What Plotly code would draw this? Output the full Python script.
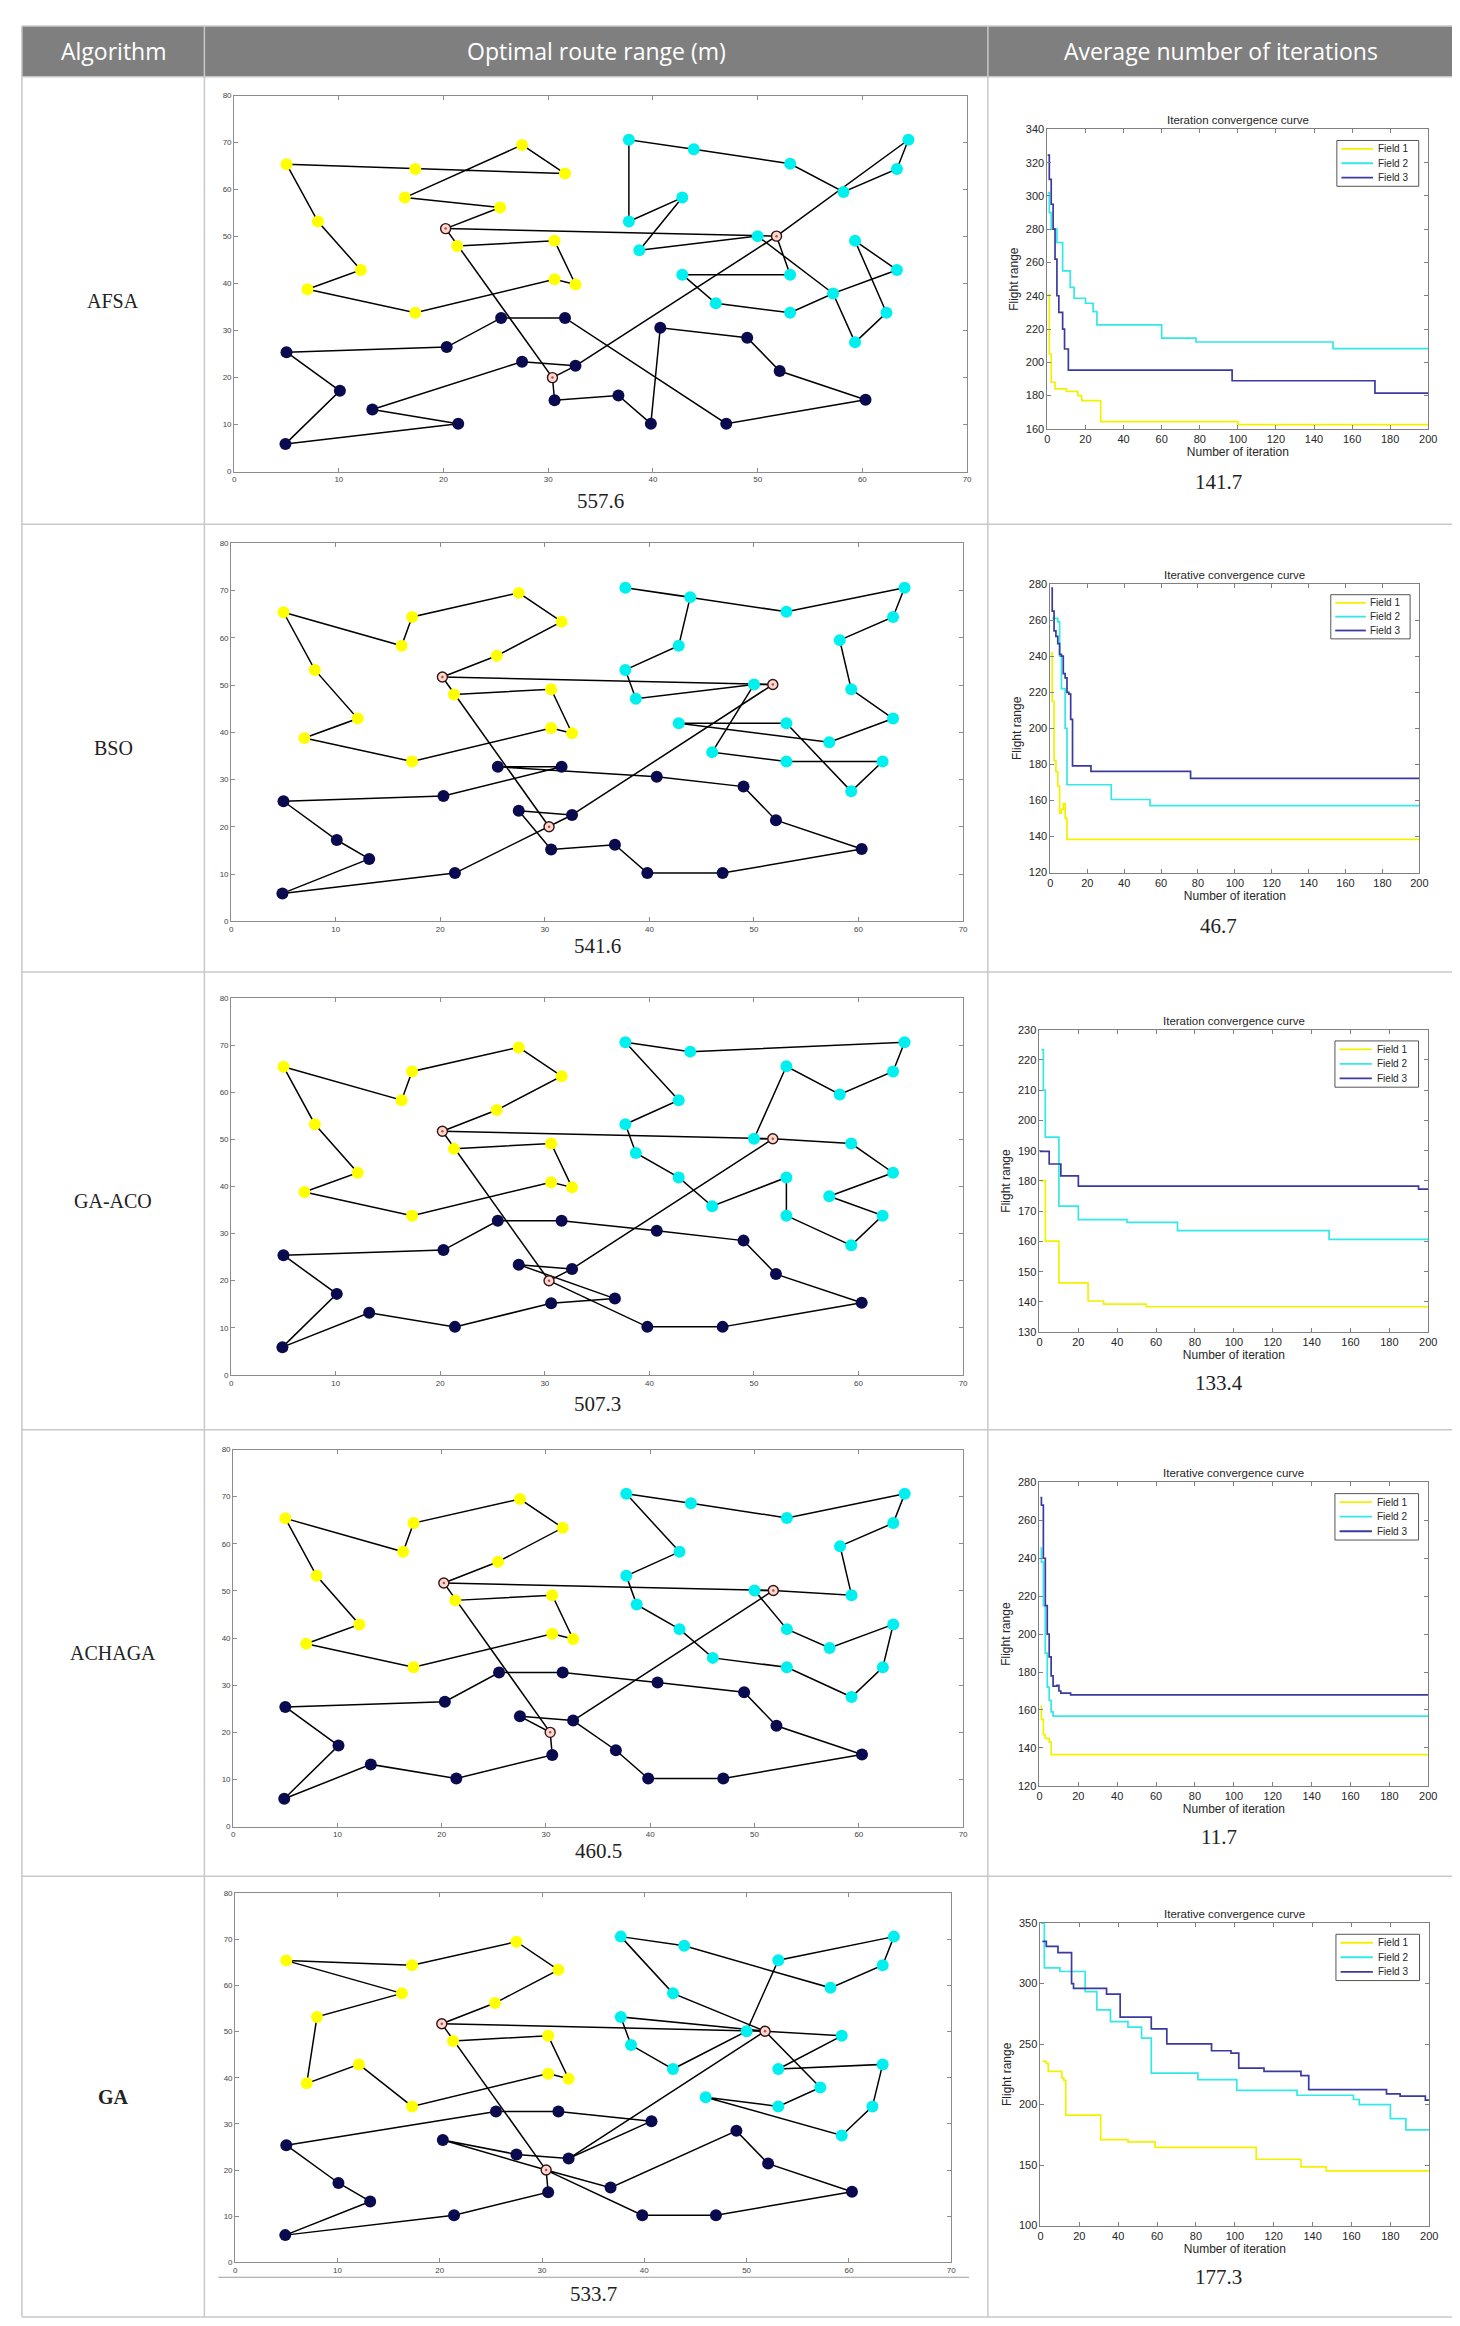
import plotly.graph_objects as go

W, H = 1460, 2326

# ---------------- node coordinates (same field layout in every route plot) ----------------
field1_x = [5.0, 17.3, 27.5, 31.6, 16.3, 25.4, 8.0, 12.1, 7.0, 17.3, 30.6, 32.6, 21.3, 30.6]
field1_y = [65.4, 64.4, 69.5, 63.4, 58.3, 56.2, 53.2, 42.9, 38.8, 33.8, 40.9, 39.8, 48.0, 49.1]
field2_x = [37.7, 43.9, 53.1, 58.2, 64.4, 63.3, 42.8, 37.7, 38.7, 50.0, 59.3, 63.3, 42.8, 53.1,
            46.0, 53.1, 57.2, 62.3, 59.3]
field2_y = [70.6, 68.6, 65.5, 59.5, 70.6, 64.4, 58.3, 53.2, 47.1, 50.1, 49.1, 42.9, 41.9, 41.9,
            35.8, 33.8, 37.9, 33.8, 27.5]
field3_x = [5.0, 20.3, 25.5, 31.6, 10.1, 4.9, 21.4, 13.2, 27.5, 32.6, 30.6, 36.7, 39.8, 40.7,
            49.0, 52.1, 60.3, 47.0]
field3_y = [25.4, 26.5, 32.7, 32.7, 17.2, 5.9, 10.2, 13.2, 23.4, 22.5, 15.2, 16.2, 10.2, 30.6,
            28.5, 21.4, 15.3, 10.2]
depot_x = [20.2, 51.8, 30.4]
depot_y = [51.7, 50.1, 20.0]

# ---------------- routes (Y = field 1, C = field 2, N = field 3, D = depot) ----------------
transit = [["D1", "D3"], ["D1", "D2"], ["D2", "N9"]]
yellow_common = ["D1", "Y5", "Y3", "Y2", "Y1", "Y4", "Y0", "Y6", "Y7", "Y8", "Y9", "Y10", "Y11", "Y13", "Y12"]

afsa_route = [
    ["D1", "Y5", "Y4", "Y2", "Y3", "Y1", "Y0", "Y6", "Y7", "Y8", "Y9", "Y10", "Y11", "Y13", "Y12"],
    ["D2", "C13", "C12", "C14", "C15", "C16", "C18", "C17", "C10", "C11", "C16", "C9", "C8", "C6",
     "C7", "C0", "C1", "C2", "C3", "C5", "C4", "D2"],
    ["D3", "N10", "N11", "N12", "N13", "N14", "N15", "N16", "N17", "N3", "N2", "N1", "N0", "N4",
     "N5", "N6", "N7", "N8", "N9", "D3"],
] + transit
bso_route = [
    yellow_common,
    ["D2", "C9", "C8", "C7", "C6", "C1", "C0", "C1", "C2", "C4", "C5", "C3", "C10", "C11", "C16",
     "C12", "C13", "C18", "C17", "C15", "C14", "C9"],
    ["N6", "D3", "N9", "N8", "N10", "N11", "N12", "N17", "N16", "N15", "N14", "N13", "N2", "N3",
     "N1", "N0", "N4", "N7", "N5", "N6"],
] + transit
gaaco_route = [
    yellow_common,
    ["D2", "C10", "C11", "C16", "C17", "C18", "C15", "C13", "C14", "C12", "C8", "C7", "C6", "C0",
     "C1", "C4", "C5", "C3", "C2", "C9", "D2"],
    ["D3", "N12", "N17", "N16", "N15", "N14", "N13", "N3", "N2", "N1", "N0", "N4", "N5", "N7",
     "N6", "N10", "N11", "N8", "N9", "D3"],
] + transit
achaga_route = [
    yellow_common,
    ["D2", "C10", "C3", "C5", "C4", "C2", "C1", "C0", "C6", "C7", "C8", "C12", "C14", "C15", "C18",
     "C17", "C11", "C16", "C13", "C9", "D2"],
    ["N9", "N11", "N12", "N17", "N16", "N15", "N14", "N13", "N3", "N2", "N1", "N0", "N4", "N5",
     "N7", "N6", "N10", "D3", "N8", "N9"],
] + transit
ga_route = [
    ["D1", "Y5", "Y3", "Y2", "Y1", "Y0", "Y4", "Y6", "Y8", "Y7", "Y9", "Y10", "Y11", "Y13", "Y12"],
    ["D2", "C10", "C13", "C11", "C17", "C18", "C14", "C15", "C16", "D2", "C6", "C0", "C1", "C3",
     "C5", "C4", "C2", "C9", "C12", "C8", "C7", "D2"],
    ["D3", "N10", "N6", "N5", "N7", "N4", "N0", "N2", "N3", "N13", "N9", "N8", "N1", "D3", "N11",
     "N14", "N15", "N16", "N17", "N12", "D3"],
] + transit

algorithms = ["AFSA", "BSO", "GA-ACO", "ACHAGA", "GA"]
route_lengths = ["557.6", "541.6", "507.3", "460.5", "533.7"]
avg_iterations = ["141.7", "46.7", "133.4", "11.7", "177.3"]
curve_titles = ["Iteration convergence curve", "Iterative convergence curve", "Iteration convergence curve",
                "Iterative convergence curve", "Iterative convergence curve"]
field_names = ["Field 1", "Field 2", "Field 3"]

# ---------------- convergence curves (iteration, best flight range) ----------------
afsa_f1_it = [0, 1, 2, 4, 10, 16, 18, 28, 100, 200]
afsa_f1_val = [240.7, 205, 188, 184, 182.5, 180, 177, 164.4, 162.5, 162.5]
afsa_f2_it = [0, 1, 2, 5, 8, 12, 14, 20, 24, 26, 60, 78, 150, 200]
afsa_f2_val = [302, 290, 280, 272, 255, 245, 238.5, 235.5, 230.5, 222.5, 214.5, 212.2, 208.2, 208.2]
afsa_f3_it = [0, 1, 2, 3, 4, 5, 6, 8, 9, 11, 97, 172, 200]
afsa_f3_val = [324.5, 310, 295, 280, 262, 240, 230, 220, 208, 195.3, 188.9, 181.5, 181.5]

bso_f1_it = [0, 1, 2, 3, 4, 5, 6, 7, 8, 9, 200]
bso_f1_val = [241.7, 215, 182, 176, 168, 153, 155, 158.2, 150, 138.4, 138.4]
bso_f2_it = [1, 4, 5, 6, 7, 8, 9, 33, 54, 200]
bso_f2_val = [261, 259, 240, 222, 222, 200, 168.7, 160.5, 157.1, 157.1]
bso_f3_it = [0.5, 1, 2, 3, 4, 5, 6, 7, 8, 9, 10, 11, 12, 22, 76, 200]
bso_f3_val = [277.8, 265, 254, 251, 247, 241, 240, 230.3, 228, 219.9, 219, 205, 179.2, 176.1, 172.2, 172.2]

gaaco_f1_it = [0, 3, 10, 25, 33, 55, 200]
gaaco_f1_val = [180.1, 160.1, 146.3, 140.3, 139.3, 138.4, 138.4]
gaaco_f2_it = [1, 2, 3, 10, 20, 45, 71, 149, 200]
gaaco_f2_val = [223.4, 210, 194.5, 171.7, 167.2, 166.3, 163.6, 160.7, 160.7]
gaaco_f3_it = [0, 5, 11, 20, 195, 200]
gaaco_f3_val = [189.8, 185.6, 181.7, 178.3, 177.3, 177.3]

achaga_f1_it = [0.5, 1, 2, 3, 5, 6, 200]
achaga_f1_val = [162, 155, 147, 145, 143.2, 136.5, 136.5]
achaga_f2_it = [0.5, 1, 2, 3, 4, 5, 6, 7, 200]
achaga_f2_val = [245.4, 238, 215, 190, 172, 165, 159, 156.8, 156.5]
achaga_f3_it = [0.5, 1, 2, 3, 4, 5, 6, 7, 9, 10, 11, 16, 200]
achaga_f3_val = [272, 268, 240, 215, 200, 188, 178, 172.6, 173, 170, 168.9, 168, 168]

ga_f1_it = [1, 3, 4, 11, 12, 13, 31, 45, 59, 111, 134, 147, 200]
ga_f1_val = [235.7, 234, 227.5, 222, 220, 191.3, 171, 169.1, 164.6, 154.8, 148.5, 145.2, 145.2]
ga_f2_it = [0, 2, 10, 23, 29, 36, 45, 52, 57, 81, 101, 132, 161, 164, 180, 188, 200]
ga_f2_val = [350, 313, 310, 293.3, 278.2, 268.6, 264, 254.9, 226, 220.6, 211.8, 207.7, 204.2, 200,
             188.3, 179, 179]
ga_f3_it = [1, 3, 9, 16, 17, 34, 41, 57, 65, 88, 98, 102, 115, 134, 138, 178, 185, 198, 200]
ga_f3_val = [334.9, 330.8, 325.6, 300, 296, 291.3, 272.2, 262.6, 250.2, 244.5, 242.5, 230.2, 227.5,
             223.9, 212.4, 208.8, 206.9, 203.6, 203.6]

routes = [afsa_route, bso_route, gaaco_route, achaga_route, ga_route]
curves = [
    [(afsa_f1_it, afsa_f1_val), (afsa_f2_it, afsa_f2_val), (afsa_f3_it, afsa_f3_val)],
    [(bso_f1_it, bso_f1_val), (bso_f2_it, bso_f2_val), (bso_f3_it, bso_f3_val)],
    [(gaaco_f1_it, gaaco_f1_val), (gaaco_f2_it, gaaco_f2_val), (gaaco_f3_it, gaaco_f3_val)],
    [(achaga_f1_it, achaga_f1_val), (achaga_f2_it, achaga_f2_val), (achaga_f3_it, achaga_f3_val)],
    [(ga_f1_it, ga_f1_val), (ga_f2_it, ga_f2_val), (ga_f3_it, ga_f3_val)],
]
curve_ranges = [(160, 340, 20), (120, 280, 20), (130, 230, 10), (120, 280, 20), (100, 350, 50)]

# ---------------- layout geometry (pixels) ----------------
route_boxes = [(225, 964, 82, 460), (222, 960, 532, 912), (222, 960, 989, 1368),
               (224, 960, 1443, 1822), (226, 948, 1889, 2260)]
curve_boxes = [(1045, 1429, 116, 417), (1048, 1420, 573, 863), (1037, 1429, 1021, 1325),
               (1037, 1429, 1476, 1781), (1038, 1430, 1919, 2223)]
route_caption_y = [490, 937, 1397, 1847, 2292]
curve_caption_y = [470, 917, 1376, 1832, 2275]
row_lines = [12, 63, 513, 963, 1423, 1872, 2315]
col_lines = [11, 195, 985, 1455]

node_colors = ["#ffff00", "#00f0f0", "#0a0a4e"]
curve_colors = ["#f2f200", "#33e8e8", "#3a3aa0"]


def px_x(v):
    return v / W


def px_y(v):
    return 1 - v / H


def pt(key):
    i = int(key[1:])
    if key[0] == "Y":
        return field1_x[i], field1_y[i]
    if key[0] == "C":
        return field2_x[i], field2_y[i]
    if key[0] == "N":
        return field3_x[i], field3_y[i]
    return depot_x[i - 1], depot_y[i - 1]


def paper_text(text, x, y, size, family="Liberation Serif", color="#222222"):
    return dict(text=text, x=px_x(x), y=px_y(y), xref="paper", yref="paper",
                xanchor="center", yanchor="middle", showarrow=False,
                font=dict(family=family, size=size, color=color))


fig = go.Figure()
layout = {}
shapes = []
annotations = []

for r in range(5):
    na, nb = 2 * r + 1, 2 * r + 2
    xa, ya = ("x", "y") if na == 1 else (f"x{na}", f"y{na}")
    xb, yb = f"x{nb}", f"y{nb}"

    # ---- route plot ----
    lx, ly = [], []
    for path in routes[r]:
        for key in path:
            x, y = pt(key)
            lx.append(x)
            ly.append(y)
        lx.append(None)
        ly.append(None)
    fig.add_trace(go.Scatter(x=lx, y=ly, mode="lines", line=dict(color="black", width=1.5),
                             xaxis=xa, yaxis=ya, showlegend=False, hoverinfo="skip"))
    for fx, fy, col in [(field1_x, field1_y, node_colors[0]), (field2_x, field2_y, node_colors[1]),
                        (field3_x, field3_y, node_colors[2])]:
        fig.add_trace(go.Scatter(x=fx, y=fy, mode="markers", marker=dict(color=col, size=12),
                                 xaxis=xa, yaxis=ya, showlegend=False))
    fig.add_trace(go.Scatter(x=depot_x, y=depot_y, mode="markers",
                             marker=dict(color="#f6dcd2", size=10, line=dict(color="#3a1010", width=1.4)),
                             xaxis=xa, yaxis=ya, showlegend=False))
    fig.add_trace(go.Scatter(x=depot_x, y=depot_y, mode="markers",
                             marker=dict(color="#e03a3a", size=2.5),
                             xaxis=xa, yaxis=ya, showlegend=False))

    left, right, top, bottom = route_boxes[r]
    axis_style = dict(showline=True, mirror="ticks", linecolor="#8c8c8c", linewidth=1,
                      ticks="inside", ticklen=4, tickcolor="#8c8c8c", showgrid=False, zeroline=False,
                      tickfont=dict(family="Liberation Sans", size=8, color="#444444"))
    layout["xaxis" if na == 1 else f"xaxis{na}"] = dict(
        domain=[px_x(left), px_x(right)], range=[0, 70], dtick=10, anchor=ya, **axis_style)
    layout["yaxis" if na == 1 else f"yaxis{na}"] = dict(
        domain=[px_y(bottom), px_y(top)], range=[0, 80], dtick=10, anchor=xa, **axis_style)

    annotations.append(paper_text(route_lengths[r], (left + right) / 2, route_caption_y[r], 21))

    # ---- convergence curve ----
    for k, (it, val) in enumerate(curves[r]):
        fig.add_trace(go.Scatter(x=it, y=val, mode="lines", line_shape="hv",
                                 line=dict(color=curve_colors[k], width=1.7),
                                 xaxis=xb, yaxis=yb, showlegend=False, name=field_names[k]))
    cl, cr, ct, cb = curve_boxes[r]
    y0, y1, dy = curve_ranges[r]
    cstyle = dict(showline=True, mirror="ticks", linecolor="#808080", linewidth=1,
                  ticks="inside", ticklen=4, tickcolor="#808080", showgrid=False, zeroline=False,
                  tickfont=dict(family="Liberation Sans", size=11, color="#262626"))
    layout[f"xaxis{nb}"] = dict(domain=[px_x(cl), px_x(cr)], range=[0, 200], dtick=20, anchor=yb,
                                title=dict(text="Number of iteration", standoff=2,
                                           font=dict(family="Liberation Sans", size=12, color="#262626")),
                                **cstyle)
    layout[f"yaxis{nb}"] = dict(domain=[px_y(cb), px_y(ct)], range=[y0, y1], dtick=dy, anchor=xb,
                                title=dict(text="Flight range", standoff=4,
                                           font=dict(family="Liberation Sans", size=12, color="#262626")),
                                **cstyle)
    annotations.append(dict(text=curve_titles[r], x=0.5, y=1, xref=f"x{nb} domain", yref=f"y{nb} domain",
                            xanchor="center", yanchor="bottom", yshift=1, showarrow=False,
                            font=dict(family="Liberation Sans", size=11.5, color="#262626")))
    annotations.append(paper_text(avg_iterations[r], 1218, curve_caption_y[r], 21))

    # legend box inside the curve axes
    dref = dict(xref=f"x{nb} domain", yref=f"y{nb} domain")
    shapes.append(dict(type="rect", x0=0.76, x1=0.975, y0=0.81, y1=0.963,
                       line=dict(color="#555555", width=1), fillcolor="white", **dref))
    for k in range(3):
        yy = 0.935 - k * 0.048
        shapes.append(dict(type="line", x0=0.772, x1=0.855, y0=yy, y1=yy,
                           line=dict(color=curve_colors[k], width=1.8), **dref))
        annotations.append(dict(text=field_names[k], x=0.862, y=yy, xanchor="left", yanchor="middle",
                                showarrow=False, font=dict(family="Liberation Sans", size=10,
                                                           color="#262626"), **dref))

    label = f"<b>{algorithms[r]}</b>" if algorithms[r] == "GA" else algorithms[r]
    annotations.append(paper_text(label, 103, (row_lines[r + 1] + row_lines[r + 2]) / 2, 20))

# ---------------- table frame ----------------
shapes.insert(0, dict(type="rect", xref="paper", yref="paper", x0=px_x(11), x1=px_x(1455),
                      y0=px_y(63), y1=px_y(12), fillcolor="#7f7f7f", line=dict(width=0), layer="below"))
for yv in row_lines:
    shapes.append(dict(type="line", xref="paper", yref="paper", x0=px_x(11), x1=px_x(1455),
                       y0=px_y(yv), y1=px_y(yv), line=dict(color="#c8c8c8", width=1.5)))
for xv in col_lines:
    shapes.append(dict(type="line", xref="paper", yref="paper", x0=px_x(xv), x1=px_x(xv),
                       y0=px_y(2315), y1=px_y(12), line=dict(color="#c8c8c8", width=1.5)))
shapes.append(dict(type="line", xref="paper", yref="paper", x0=px_x(209), x1=px_x(966),
                   y0=px_y(2275), y1=px_y(2275), line=dict(color="#9a9a9a", width=1)))

for text, xc in [("Algorithm", 103), ("Optimal route range (m)", 590), ("Average number of iterations", 1220)]:
    annotations.append(paper_text(text, xc, 37.5, 23, family="Open Sans", color="white"))

fig.update_layout(
    width=W, height=H,
    margin=dict(l=0, r=0, t=0, b=0),
    paper_bgcolor="white", plot_bgcolor="white",
    shapes=shapes, annotations=annotations,
    **layout,
)

fig.write_html("out.html")
